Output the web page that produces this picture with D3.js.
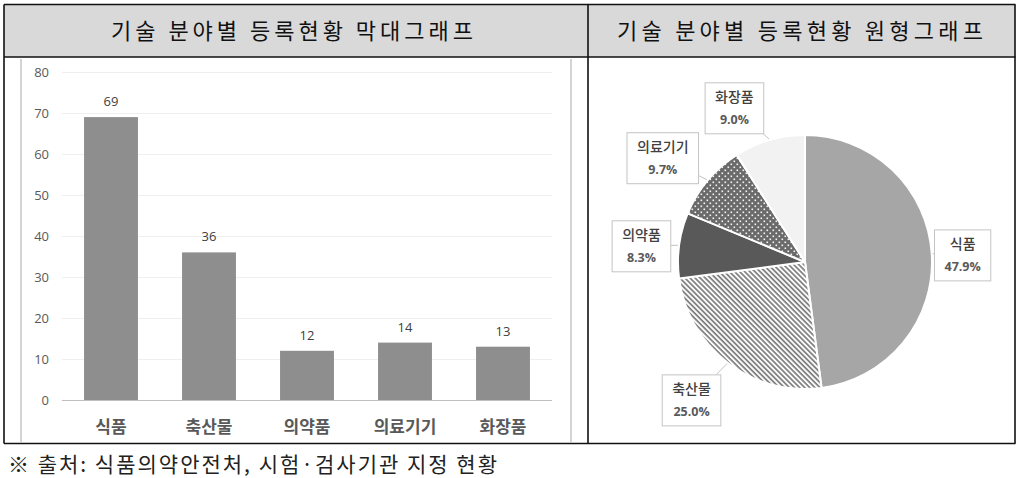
<!DOCTYPE html>
<html>
<head>
<meta charset="utf-8">
<script src="https://cdn.jsdelivr.net/npm/d3@7"></script>
<style>
  body { margin: 0; background: #fff; }
  svg { display: block; }
</style>
</head>
<body>
<svg id="chart" width="1024" height="478"></svg>
<script>
// ---- data ----
const categories = ["식품", "축산물", "의약품", "의료기기", "화장품"];
const counts = [69, 36, 12, 14, 13];
const yTicks = [0, 10, 20, 30, 40, 50, 60, 70, 80];
const titleLeft = "기술 분야별 등록현황 막대그래프";
const titleRight = "기술 분야별 등록현황 원형그래프";
const sourceNote = "※ 출처: 식품의약안전처, 시험·검사기관 지정 현황";

const svg = d3.select("#chart");
const KR = "'Noto Sans CJK KR', 'Noto Sans', sans-serif";

// ---- table frame ----
svg.append("rect").attr("x", 4).attr("y", 4.5).attr("width", 1011).attr("height", 52.5)
  .attr("fill", "#d9d9d9");
const frame = svg.append("g").attr("stroke", "#111").attr("stroke-width", 1.6);
frame.append("line").attr("x1", 4).attr("x2", 1015.5).attr("y1", 4.5).attr("y2", 4.5);
frame.append("line").attr("x1", 4).attr("x2", 1015.5).attr("y1", 57).attr("y2", 57);
frame.append("line").attr("x1", 4).attr("x2", 1015.5).attr("y1", 443.5).attr("y2", 443.5);
frame.append("line").attr("x1", 4).attr("x2", 4).attr("y1", 4.5).attr("y2", 443.5);
frame.append("line").attr("x1", 1015).attr("x2", 1015).attr("y1", 4.5).attr("y2", 443.5);
frame.append("line").attr("x1", 588).attr("x2", 588).attr("y1", 4.5).attr("y2", 443.5);

svg.append("text").attr("x", 111).attr("y", 38.5).attr("textLength", 362)
  .attr("lengthAdjust", "spacing")
  .style("font-family", KR).style("font-size", "22px").attr("fill", "#111").text(titleLeft);
svg.append("text").attr("x", 617).attr("y", 38.5).attr("textLength", 366)
  .attr("lengthAdjust", "spacing")
  .style("font-family", KR).style("font-size", "22px").attr("fill", "#111").text(titleRight);

svg.append("text").attr("x", 8).attr("y", 472).attr("textLength", 489)
  .attr("lengthAdjust", "spacing")
  .style("font-family", KR).style("font-size", "21px").attr("fill", "#222").text(sourceNote);

// ---- bar chart ----
const bar = svg.append("g");
// chart image edges
bar.append("line").attr("x1", 21).attr("x2", 21).attr("y1", 59).attr("y2", 442)
  .attr("stroke", "#d4d4d4").attr("stroke-width", 2);
bar.append("line").attr("x1", 571).attr("x2", 571).attr("y1", 59).attr("y2", 442)
  .attr("stroke", "#d4d4d4").attr("stroke-width", 2);

const y = d3.scaleLinear().domain([0, 80]).range([400, 72]);
const x = d3.scaleBand().domain(categories).range([62, 552])
  .paddingInner(0.45).paddingOuter(0.225);

// gridlines
bar.append("g").attr("transform", "translate(62,0)")
  .call(d3.axisLeft(y).tickValues(yTicks.filter(t => t > 0)).tickSize(-490).tickFormat(""))
  .call(g => g.select(".domain").remove())
  .call(g => g.selectAll("line").attr("stroke", "#efefef").attr("stroke-width", 1));

// y tick labels
bar.append("g").attr("transform", "translate(62,0)")
  .call(d3.axisLeft(y).tickValues(yTicks).tickSize(0).tickPadding(13))
  .call(g => g.select(".domain").remove())
  .call(g => g.selectAll("text").attr("fill", "#595959")
    .style("font-family", "'Open Sans', sans-serif").style("font-size", "13px"));

// bars
bar.selectAll("rect.bar").data(categories).join("rect").attr("class", "bar")
  .attr("x", d => x(d)).attr("width", x.bandwidth())
  .attr("y", (d, i) => y(counts[i])).attr("height", (d, i) => y(0) - y(counts[i]))
  .attr("fill", "#8e8e8e");

// baseline
bar.append("line").attr("x1", 62).attr("x2", 552).attr("y1", y(0) + 0.5).attr("y2", y(0) + 0.5)
  .attr("stroke", "#bfbfbf").attr("stroke-width", 1.2);

// value labels
bar.selectAll("text.val").data(categories).join("text").attr("class", "val")
  .attr("x", d => x(d) + x.bandwidth() / 2).attr("y", (d, i) => y(counts[i]) - 11)
  .attr("text-anchor", "middle").attr("fill", "#404040")
  .style("font-family", "'Open Sans', sans-serif").style("font-size", "13px")
  .text((d, i) => counts[i]);

// category labels
bar.append("g").attr("transform", `translate(0,${y(0)})`)
  .call(d3.axisBottom(x).tickSize(0).tickPadding(21))
  .call(g => g.select(".domain").remove())
  .call(g => g.selectAll("text").attr("fill", "#595959")
    .style("font-family", KR).style("font-size", "17px").style("font-weight", "700"));

// ---- pie chart ----
const defs = svg.append("defs");
const hatch = defs.append("pattern").attr("id", "hatch").attr("patternUnits", "userSpaceOnUse")
  .attr("width", 3.6).attr("height", 3.6).attr("patternTransform", "rotate(-45)");
hatch.append("rect").attr("width", 3.6).attr("height", 3.6).attr("fill", "#fff");
hatch.append("line").attr("x1", 1).attr("x2", 1).attr("y1", 0).attr("y2", 3.6)
  .attr("stroke", "#7a7a7a").attr("stroke-width", 1.7);

const dots = defs.append("pattern").attr("id", "dots").attr("patternUnits", "userSpaceOnUse")
  .attr("width", 6).attr("height", 6);
dots.append("rect").attr("width", 6).attr("height", 6).attr("fill", "#6a6a6a");
dots.append("rect").attr("x", 0.5).attr("y", 0.5).attr("width", 1.6).attr("height", 1.6).attr("fill", "#f4f4f4");
dots.append("rect").attr("x", 3.5).attr("y", 3.5).attr("width", 1.6).attr("height", 1.6).attr("fill", "#f4f4f4");

const fills = ["#a6a6a6", "url(#hatch)", "#595959", "url(#dots)", "#f2f2f2"];
const cx = 805, cy = 262, R = 127;
const total = d3.sum(counts);
const pie = d3.pie().sort(null).value(d => d)(counts);
const arc = d3.arc().innerRadius(0).outerRadius(R);
const labelArc = d3.arc().innerRadius(170).outerRadius(170);
const edgeArc = d3.arc().innerRadius(R + 1).outerRadius(R + 1);

const pg = svg.append("g").attr("transform", `translate(${cx},${cy})`);
pg.selectAll("path.slice").data(pie).join("path").attr("class", "slice")
  .attr("d", arc).attr("fill", (d, i) => fills[i])
  .attr("stroke", "#fff").attr("stroke-width", 2).attr("stroke-linejoin", "round");

// label nudges (layout only)
const nudge = [[-12, 4], [-10, 3], [5, 6], [-12, 5], [-23, 9]];

pie.forEach((d, i) => {
  const c = labelArc.centroid(d);
  const tx = c[0] + nudge[i][0], ty = c[1] + nudge[i][1];
  const lg = pg.append("g");
  const box = lg.append("rect");
  const t1 = lg.append("text").attr("x", tx).attr("y", ty - 6).attr("text-anchor", "middle")
    .attr("fill", "#404040").style("font-family", KR).style("font-size", "14px")
    .style("font-weight", "500").text(categories[i]);
  const t2 = lg.append("text").attr("x", tx).attr("y", ty + 16.5).attr("text-anchor", "middle")
    .attr("fill", "#595959").style("font-family", "'Open Sans', sans-serif").style("font-size", "12.5px")
    .style("font-weight", "700").text(d3.format(".1%")(counts[i] / total));
  const w = Math.max(t1.node().getComputedTextLength(), t2.node().getComputedTextLength()) + 20;
  const h = 51;
  const bx = tx - w / 2, by = ty - 25;
  box.attr("x", bx).attr("y", by).attr("width", w).attr("height", h)
    .attr("fill", "#fff").attr("stroke", "#c4c4c4").attr("stroke-width", 1);
  // leader from box edge to slice edge
  const e = edgeArc.centroid(d);
  const dx = e[0] - tx, dy = e[1] - ty;
  const s = Math.min(Math.abs((w / 2) / (dx || 1e-9)), Math.abs((h / 2) / (dy || 1e-9)));
  if (s < 1) {
    lg.insert("line", "rect")
      .attr("x1", tx + dx * s).attr("y1", ty + dy * s).attr("x2", e[0]).attr("y2", e[1])
      .attr("stroke", "#c4c4c4").attr("stroke-width", 1);
  }
});
</script>
</body>
</html>
